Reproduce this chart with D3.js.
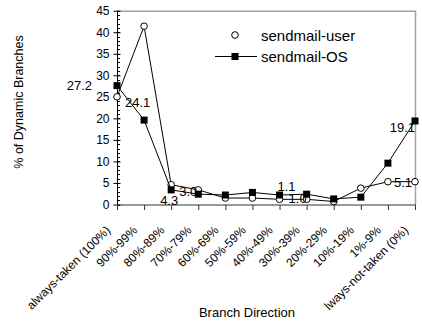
<!DOCTYPE html>
<meta charset="utf-8">
<title>sendmail branches</title>
<style>
body {
  margin: 0px;
  background: #fff;
  font-family: "Liberation Sans", Arial, sans-serif;
}
svg text { fill: #000; }
.line { fill: none; stroke: #000; stroke-width: 1; }
</style>
<script src="https://d3js.org/d3.v7.min.js"></script>
<body>
<script>
var width = 422, height = 322;

// categories along x
var cats = ["always-taken (100%)", "90%-99%", "80%-89%", "70%-79%", "60%-69%", "50%-59%",
            "40%-49%", "30%-39%", "20%-29%", "10%-19%", "1%-9%", "lways-not-taken (0%)"];
// series values
var userVals = [25.0, 41.4, 4.6, 3.4, 1.5, 1.5, 1.2, 1.2, 0.7, 3.8, 5.3, 5.3];
var osVals   = [27.6, 19.6, 3.4, 2.4, 2.2, 2.8, 2.2, 2.4, 1.3, 1.7, 9.6, 19.4];
var yTicks = d3.range(0, 46, 5);
// data labels: category index, series, text
var labelIdx    = [0, 0, 2, 3, 6, 7, 11, 11];
var labelSeries = ["os", "user", "os", "user", "os", "user", "os", "user"];
var labelText   = ["27.2", "24.1", "4.3", "3.0", "1.1", "1.0", "19.1", "5.1"];

var svg = d3.select("body").append("svg")
    .attr("width", width)
    .attr("height", height);

var x = d3.scalePoint().domain(cats).range([117, 415]);
var y = d3.scaleLinear().domain([0, 45]).range([204.5, 10.7]);

// plot frame (top + right, gray)
svg.append("path")
    .attr("d", "M" + x.range()[0] + "," + (y(45) + 0.5) + "H" + (x.range()[1] + 0.5) + "V" + y(0))
    .attr("fill", "none")
    .attr("stroke", "#a0a0a0")
    .attr("stroke-width", 1.5);

// minor y ticks
svg.append("g").selectAll("line")
    .data(d3.range(0, 46, 1))
  .enter().append("line")
    .attr("x1", 117).attr("x2", 120)
    .attr("y1", function(d) { return Math.round(y(d)) + 0.5; })
    .attr("y2", function(d) { return Math.round(y(d)) + 0.5; })
    .attr("stroke", "#000");

// y axis
var yAxis = svg.append("g")
    .attr("transform", "translate(117.5,0)")
    .call(d3.axisLeft(y).tickValues(yTicks).tickSize(4).tickPadding(4));
yAxis.selectAll("text").style("font-size", "12px").style("font-family", "Liberation Sans, Arial, sans-serif");
yAxis.selectAll(".tick line").attr("x2", -4).attr("x1", 3);
yAxis.select(".domain").attr("d", "M0," + y(45) + "V" + y(0));

// x axis
var xAxis = svg.append("g")
    .attr("transform", "translate(0," + (y(0) + 0.5) + ")")
    .call(d3.axisBottom(x).tickSize(5).tickFormat(""));
xAxis.select(".domain").attr("d", "M117,0H416").attr("stroke", "#333");
xAxis.selectAll(".tick line").attr("stroke", "#333");

// rotated category labels
svg.append("g").selectAll("text")
    .data(cats)
  .enter().append("text")
    .attr("transform", function(d) { return "translate(" + (x(d) - 6) + "," + (y(0) + 26.5) + ") rotate(-45)"; })
    .attr("text-anchor", "end")
    .style("font-size", "12px")
    .text(function(d) { return d; });

// axis titles
svg.append("text")
    .attr("x", 247).attr("y", 317)
    .attr("text-anchor", "middle")
    .style("font-size", "13px")
    .text("Branch Direction");
svg.append("text")
    .attr("transform", "translate(23,102) rotate(-90)")
    .attr("text-anchor", "middle")
    .style("font-size", "12.5px")
    .text("% of Dynamic Branches");

var line = d3.line()
    .x(function(d, i) { return x(cats[i]); })
    .y(function(d) { return y(d); });

// sendmail-user
svg.append("path").datum(userVals).attr("class", "line").attr("d", line);
svg.append("g").selectAll("circle")
    .data(userVals)
  .enter().append("circle")
    .attr("cx", function(d, i) { return x(cats[i]); })
    .attr("cy", function(d) { return y(d); })
    .attr("r", 3.3)
    .attr("fill", "#fff")
    .attr("stroke", "#000");

// sendmail-OS
svg.append("path").datum(osVals).attr("class", "line").attr("d", line);
svg.append("g").selectAll("rect")
    .data(osVals)
  .enter().append("rect")
    .attr("x", function(d, i) { return x(cats[i]) - 3.5; })
    .attr("y", function(d) { return y(d) - 3.5; })
    .attr("width", 7).attr("height", 7)
    .attr("fill", "#000");

// data labels
var labelOffsets = [[-25, 4, "end"], [8, 10, "start"], [-2, 15, "middle"], [-1, 6, "end"],
                    [-2, -4, "start"], [0, 4, "end"], [0, 11, "end"], [-3, 5, "end"]];
svg.append("g").selectAll("text")
    .data(labelText)
  .enter().append("text")
    .attr("x", function(d, i) { return x(cats[labelIdx[i]]) + labelOffsets[i][0]; })
    .attr("y", function(d, i) {
      var v = labelSeries[i] == "os" ? osVals[labelIdx[i]] : userVals[labelIdx[i]];
      return y(v) + labelOffsets[i][1];
    })
    .attr("text-anchor", function(d, i) { return labelOffsets[i][2]; })
    .style("font-size", "13px")
    .text(function(d) { return d; });

// legend
var legend = svg.append("g").attr("transform", "translate(235,35)");
legend.append("circle").attr("r", 3.3).attr("fill", "#fff").attr("stroke", "#000");
legend.append("text").attr("x", 26).attr("y", 5.5).style("font-size", "15px").text("sendmail-user");
legend.append("line").attr("x1", -20).attr("x2", 22).attr("y1", 21.5).attr("y2", 21.5).attr("stroke", "#000");
legend.append("rect").attr("x", -3.5).attr("y", 18).attr("width", 7).attr("height", 7).attr("fill", "#000");
legend.append("text").attr("x", 26).attr("y", 27).style("font-size", "15px").text("sendmail-OS");
</script>
